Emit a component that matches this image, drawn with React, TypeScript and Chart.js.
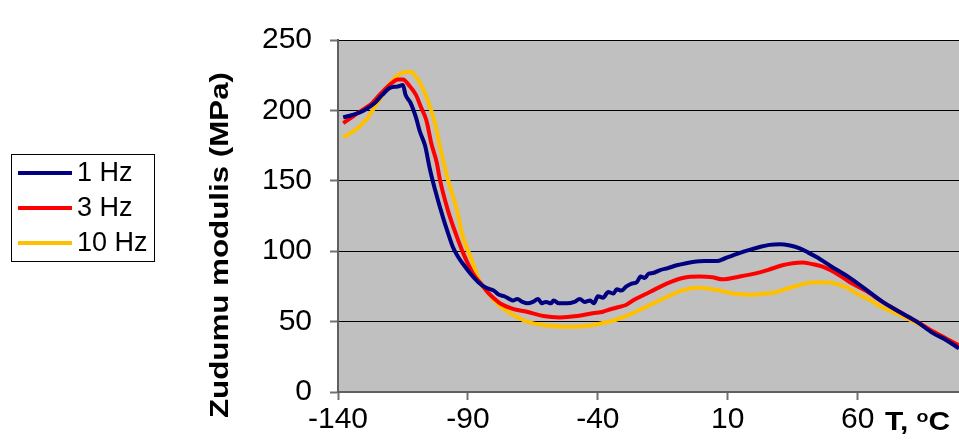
import React, { useEffect, useRef } from "react";
import { Chart, registerables } from "chart.js";

Chart.register(...registerables);

const SERIES_LABELS = ["1 Hz", "3 Hz", "10 Hz"];
const SERIES_COLORS = ["#000080", "#FF0000", "#FFC000"];

const T_1HZ = [-138, -134, -130, -126, -123, -120, -117, -115, -114, -112, -110, -108.5, -106.5, -104.6, -102.7, -99.6, -97.5, -95.8, -93.8, -91.5, -89, -86, -83, -80, -78, -76, -74, -72.7, -71, -69, -67, -65, -63, -61.5, -60, -58, -57, -55, -52, -49, -47, -45, -43, -41.5, -40, -38, -36, -34, -32.7, -31, -29, -27, -25, -23.5, -22, -20.5, -18.8, -16, -13, -9.6, -6, -3.5, 1, 5.8, 9, 12, 15, 18.5, 22.3, 26, 30, 34, 37.7, 41, 44, 50, 57, 63, 69.6, 76, 82.7, 88.8, 94, 99];
const E_1HZ = [195, 197, 200, 205, 211, 216, 217, 218, 211, 205, 195, 185, 175, 158, 144, 124, 112, 103, 96, 90, 84, 78, 74, 72, 69, 68, 66, 65, 66, 64, 63, 64, 66, 63, 64, 63, 65, 63, 63, 64, 66, 64, 65, 63, 68, 67, 71, 70, 73, 72, 75, 77, 78, 82, 81, 84, 84.5, 86.6, 88, 90, 91.5, 92.3, 93, 93, 95, 97, 99, 101, 103, 104.5, 105, 104, 102, 99, 96, 89, 81, 73, 64, 57, 50, 42, 37, 31];

const T_3HZ = [-138, -134, -130, -127, -123.5, -119.6, -117, -115, -112.3, -110, -108, -106, -104, -102, -100.8, -97.7, -94.2, -91.9, -88, -85, -82, -80, -77.7, -72.7, -67.3, -61, -54.6, -48, -42, -38, -36.5, -32.7, -29, -26.5, -20, -13.5, -7.3, -0.8, 4, 8, 14.6, 22.3, 26, 31, 35, 38.8, 42, 46.5, 52, 57, 63, 69.6, 76, 82.7, 90, 99];
const E_3HZ = [191, 196, 201, 205, 212, 219, 222, 222, 217, 211, 202, 193, 176, 163, 151, 129, 110, 99, 84, 77, 70, 66.5, 63, 59, 57, 54, 53, 54, 56, 57, 58, 60, 62, 65, 71, 77, 81, 82, 81.5, 80, 82, 85, 87, 90, 91.5, 92, 91, 89, 84, 78, 72, 64, 57, 50, 42, 33];

const T_10HZ = [-138, -135, -132, -128.5, -124.6, -120.8, -117.7, -115, -112, -110.4, -108, -105.4, -102.7, -100.6, -98.8, -97.7, -94.2, -91.9, -88.5, -85.4, -82, -78.8, -73.8, -67.3, -61, -52, -44, -38, -32.7, -26.5, -20, -13.5, -7.3, -0.8, 5.8, 12, 18.5, 22.3, 28.8, 33, 37.7, 41, 45.4, 49, 52, 56, 59.6, 64, 69.6, 76, 82.7, 90, 99];
const E_10HZ = [181, 184, 188, 195, 206, 217, 224, 227, 227.5, 225, 218, 207, 191, 173, 159, 151, 129, 110, 94, 78, 70, 63, 56, 50, 47.6, 46.3, 47, 49, 51.5, 56, 61.8, 67.5, 72.4, 74, 72.4, 70, 69, 69.5, 71, 73.5, 76, 77.5, 78, 77.8, 76.7, 74, 70, 66, 60, 55, 49, 42, 33];

const X_TICKS = [-140, -90, -40, 10, 60];
const Y_TICKS = [0, 50, 100, 150, 200, 250];
const Y_TITLE = "Zudumu modulis (MPa)";
const X_TITLE_MAIN = "T, ";
const X_TITLE_SUP = "o";
const X_TITLE_END = "C";

const FONT = "'Liberation Sans', Arial, sans-serif";

function toPoints(ts: number[], vs: number[]) {
  return ts.map((t, i) => ({ x: t, y: vs[i] }));
}

const decorPlugin = {
  id: "decor",
  beforeDraw(chart: any) {
    const { ctx, chartArea } = chart;
    ctx.save();
    ctx.fillStyle = "#C0C0C0";
    ctx.fillRect(chartArea.left, chartArea.top, chartArea.right - chartArea.left, chartArea.bottom - chartArea.top);
    ctx.restore();
  },
  afterDraw(chart: any) {
    const { ctx } = chart;
    ctx.save();
    // Legend
    ctx.fillStyle = "#FFFFFF";
    ctx.fillRect(11.5, 154.5, 143, 107);
    ctx.strokeStyle = "#000000";
    ctx.lineWidth = 1;
    ctx.strokeRect(11.5, 154.5, 143, 107);
    const rows = [173, 208, 243];
    chart.data.datasets.forEach((ds: any, i: number) => {
      const y = rows[i];
      ctx.strokeStyle = ds.borderColor;
      ctx.lineWidth = 4;
      ctx.beginPath();
      ctx.moveTo(18, y);
      ctx.lineTo(72, y);
      ctx.stroke();
      ctx.fillStyle = "#000";
      ctx.font = `27px ${FONT}`;
      ctx.textBaseline = "middle";
      ctx.textAlign = "left";
      ctx.fillText(ds.label, 77, y + 1);
    });

    // Y title
    ctx.save();
    ctx.translate(221, 245);
    ctx.rotate(-Math.PI / 2);
    ctx.font = `bold 26px ${FONT}`;
    const w = ctx.measureText(Y_TITLE).width;
    ctx.scale(346 / w, 1);
    ctx.textAlign = "center";
    ctx.textBaseline = "middle";
    ctx.fillStyle = "#000";
    ctx.fillText(Y_TITLE, 0, 0);
    ctx.restore();

    // X title
    ctx.save();
    ctx.fillStyle = "#000";
    ctx.textBaseline = "alphabetic";
    ctx.textAlign = "left";
    ctx.translate(885, 430);
    ctx.scale(1.15, 1);
    ctx.font = `bold 26px ${FONT}`;
    ctx.fillText(X_TITLE_MAIN, 0, 0);
    let x = ctx.measureText(X_TITLE_MAIN).width;
    ctx.font = `bold 17px ${FONT}`;
    ctx.fillText(X_TITLE_SUP, x, -8);
    x += ctx.measureText(X_TITLE_SUP).width;
    ctx.font = `bold 26px ${FONT}`;
    ctx.fillText(X_TITLE_END, x, 0);
    ctx.restore();

    ctx.restore();
  },
};

export default function App() {
  const ref = useRef<HTMLCanvasElement | null>(null);

  useEffect(() => {
    if (!ref.current) return;
    const chart = new Chart(ref.current, {
      type: "line",
      data: {
        datasets: [
          { label: SERIES_LABELS[0], data: toPoints(T_1HZ, E_1HZ), borderColor: SERIES_COLORS[0] },
          { label: SERIES_LABELS[1], data: toPoints(T_3HZ, E_3HZ), borderColor: SERIES_COLORS[1] },
          { label: SERIES_LABELS[2], data: toPoints(T_10HZ, E_10HZ), borderColor: SERIES_COLORS[2] },
        ].map((d) => ({
          ...d,
          backgroundColor: d.borderColor,
          borderWidth: 4,
          pointRadius: 0,
          cubicInterpolationMode: "monotone" as const,
          fill: false,
        })),
      },
      options: {
        animation: false,
        responsive: false,
        devicePixelRatio: 1,
        layout: { padding: { top: 40, left: 0, right: 0, bottom: 0 } },
        plugins: { legend: { display: false }, tooltip: { enabled: false } },
        scales: {
          x: {
            type: "linear",
            min: -140,
            max: 99,
            afterBuildTicks: (scale: any) => {
              scale.ticks = X_TICKS.map((v) => ({ value: v }));
            },
            afterFit: (scale: any) => {
              scale.height = 49;
            },
            ticks: { font: { size: 30, family: FONT }, color: "#000", padding: 2, maxRotation: 0, autoSkip: false },
            grid: { drawOnChartArea: false, tickLength: 8, tickColor: "#707070", tickWidth: 2 },
            border: { color: "#606060", width: 2 },
          },
          y: {
            min: 0,
            max: 250,
            afterBuildTicks: (scale: any) => {
              scale.ticks = Y_TICKS.map((v) => ({ value: v }));
            },
            afterFit: (scale: any) => {
              scale.width = 338;
            },
            ticks: { font: { size: 30, family: FONT }, color: "#000", padding: 18 },
            grid: { color: "#000000", lineWidth: 1, tickLength: 8, tickColor: "#707070", tickWidth: 2 },
            border: { color: "#606060", width: 2 },
          },
        },
      },
      plugins: [decorPlugin],
    });
    return () => chart.destroy();
  }, []);

  return (
    <div style={{ position: "absolute", left: 0, top: 0, width: 959, height: 441, background: "#fff" }}>
      <canvas ref={ref} width={959} height={441} style={{ display: "block", width: 959, height: 441 }} />
    </div>
  );
}
